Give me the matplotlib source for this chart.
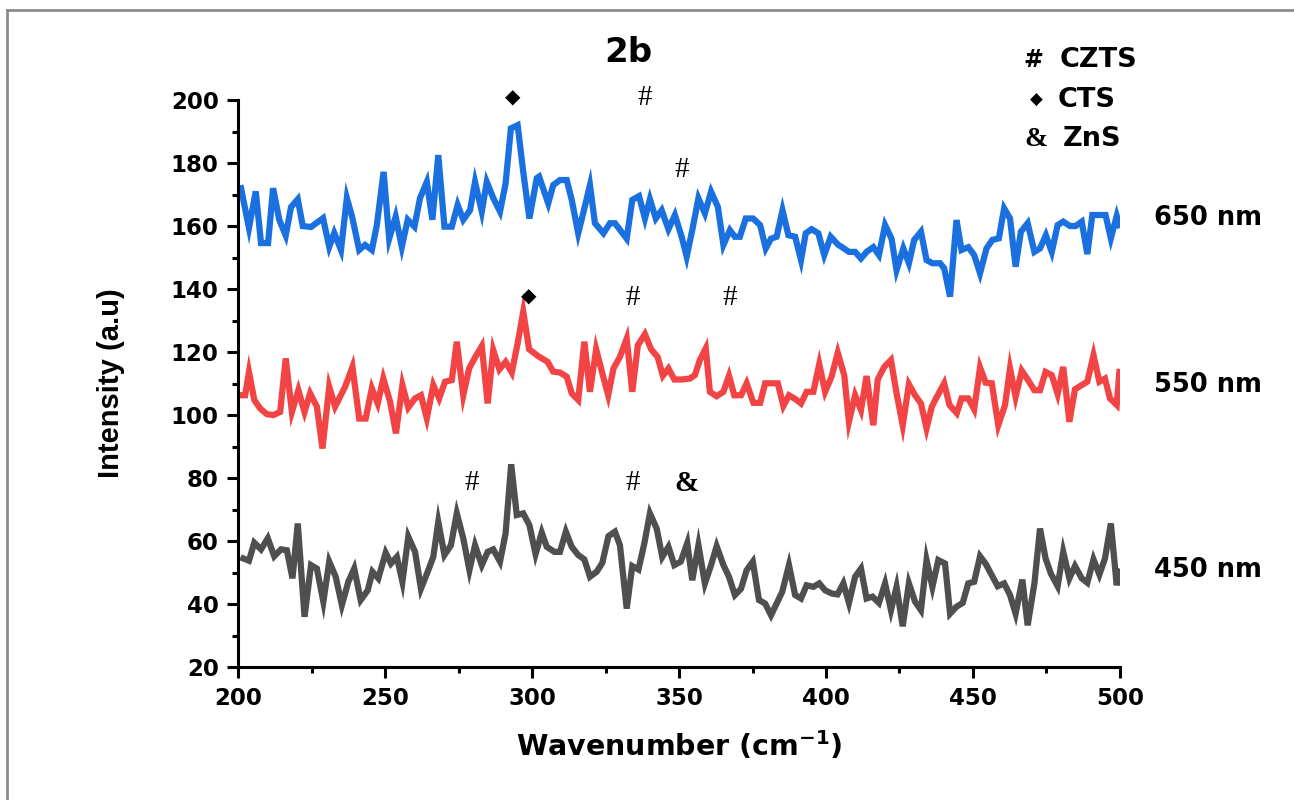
import matplotlib
matplotlib.use("Agg")
import matplotlib.pyplot as plt
from matplotlib.lines import Line2D
from matplotlib.ticker import MultipleLocator

plt.rcParams['font.family'] = ['DejaVu Sans']
plt.rcParams['mathtext.fontset'] = 'dejavusans'

# Raman spectra, excitation 650 / 550 / 450 nm (wavenumber, intensity)
x_650 = [201, 203.7, 206, 207.8, 210.2, 211.9, 214, 216.2, 218, 220.3, 222, 224.8, 228.9, 231,
         232.7, 235, 237, 238.8, 241.2, 243.2, 245.5, 247.2, 249.5, 251.4, 253.6, 255.7, 257.7,
         260, 261.9, 264.2, 266.1, 268.1, 270.2, 272.7, 274.7, 276.6, 278.9, 280.6, 282.9, 284.6,
         286.8, 289.1, 291, 292.8, 295.1, 297, 299.1, 301.6, 302.4, 305.5, 307.2, 309.5, 311.8,
         313.5, 315.7, 317.8, 319.7, 321.4, 324.3, 326.5, 328.2, 332.2, 334.1, 336.4, 338.4,
         340.1, 342.1, 344.1, 346.4, 348.6, 350.9, 352.6, 354.5, 356.6, 358.8, 360.9, 363.2,
         365.1, 367.3, 369, 370.7, 372.7, 375.2, 377.6, 379.5, 381.3, 383.2, 385.2, 387.2,
         389.5, 391.5, 393.1, 395.1, 397.4, 399.4, 401.6, 404.2, 405.3, 407.8, 409.9, 411.9,
         413.8, 416.1, 418, 420.1, 422.3, 424, 426.3, 428.2, 430, 432.3, 434.2, 436.2, 438.8,
         440.2, 442.2, 444.4, 446.1, 448.4, 450.4, 452.4, 454.6, 456.6, 458.8, 460.6, 462.6,
         464.5, 466.3, 468.6, 470.9, 472.8, 474.8, 476.8, 478.8, 480.7, 483, 484.9, 487, 488.9,
         490.6, 492.6, 495.1, 496.9, 498.9, 499.8]
y_650 = [172, 159.4, 171, 154.6, 154.6, 172, 162, 157, 166, 168.5, 160, 159.7, 162.5, 153.4,
         157.8, 152.4, 168.9, 162.9, 152.4, 154, 152.4, 160.3, 177.2, 156, 163, 153.4, 162,
         159.8, 168.9, 174, 162, 182.5, 159.8, 159.8, 166.7, 162, 165, 174, 164.6, 174,
         168.9, 164.6, 173.5, 191, 192, 177.2, 162.4, 175.2, 175.7, 167.2, 173, 174.6, 174.6,
         168.3, 157.7, 165.6, 173, 160.9, 157.7, 160.9, 160.9, 156, 168.3, 169.5, 162.4,
         168.5, 162.4, 165, 159, 163.5, 156.6, 150.3, 158.7, 168.8, 164, 170.9, 166.1,
         154, 158.7, 156.6, 156.6, 162.4, 162.4, 160.3, 152.9, 156, 156.6, 165, 157.1,
         156.6, 149.2, 157.7, 159, 157.7, 150.8, 156.6, 154, 153.4, 151.8, 151.8, 149.7,
         151.8, 153.3, 150.8, 160.3, 156, 146, 152.9, 148.2, 155.6, 158.2, 149.2, 148.2, 148.2,
         146.6, 137.6, 161.9, 152.4, 153.3, 150.8, 145, 152.9, 155.6, 156.1, 165.6, 162.4,
         147.1, 158.2, 160.9, 151.8, 152.9, 157.1, 151.8, 160.3, 161.4, 160, 160, 161.4, 151.1,
         163.5, 163.5, 163.5, 156.1, 163.2, 160.3]

x_550 = [201, 202.4, 203.7, 205.5, 207.5, 209.8, 212, 214.3, 216.2, 218.3, 220.5, 222.6, 224.5,
         226.8, 228.7, 231, 233, 236.4, 238.9, 241.2, 243.4, 245.5, 247.5, 249.4, 251.7,
         253.7, 255.9, 257.9, 260.2, 262.2, 264.2, 266.4, 268.4, 270.4, 272.7, 274.4, 276.6,
         278.6, 280.6, 282.9, 284.9, 286.8, 288.9, 291, 293.1, 295.1, 297, 299, 302.1, 305.3,
         307.2, 309.5, 311.8, 313.5, 315.7, 317.8, 319.7, 321.8, 323.9, 325.9, 327.7, 329.9,
         332.2, 334.1, 336, 338.4, 340.5, 342.7, 344.5, 346.4, 348.4, 350.9, 353.7, 355.4,
         357.1, 359.1, 360.5, 362.8, 365.1, 367, 368.8, 371.1, 373, 375.3, 377.6, 379.3,
         381.3, 383.6, 385.5, 387.4, 389.7, 391.5, 393.4, 395.7, 397.7, 399.7, 401.9, 404,
         406.2, 407.8, 409.9, 411.9, 413.8, 416.1, 417.6, 419.8, 422.1, 424, 426.1, 428.2,
         430.3, 432.3, 434.2, 436, 438, 440.2, 442, 444.5, 446.1, 448.4, 450.4, 452.4, 454.3,
         456.4, 458.6, 460.9, 462.6, 464.5, 466.6, 468.6, 470.9, 472.8, 474.7, 476.8, 478.8,
         480.7, 482.8, 484.7, 487, 488.9, 491, 493, 494.9, 496.6, 498.9, 499.8]
y_550 = [106.3, 106.3, 113.7, 104.8, 102.1, 100.3, 100, 101, 118, 101, 107.9, 101, 106.9,
         102.7, 89.4, 109, 102.7, 109, 115.3, 98.9, 98.9, 108.5, 103.7, 111.6, 104.3,
         94.2, 109.5, 102.4, 105.3, 106.3, 99, 109.5, 105.3, 110.6, 111.1, 123.3, 106.3,
         114.8, 118.3, 121.9, 103.7, 120.6, 114.5, 116.9, 113.5, 122.8, 132.8, 120.9, 118.7, 116.9,
         113.8, 113.5, 112.2, 106.9, 104.8, 123.3, 107.4, 120.9, 113.3, 106.3, 114.8, 118.5,
         124.3, 107.4, 122.2, 125.7, 120.9, 118.5, 112.5, 114.8, 111.3, 111.3, 111.6, 112.7,
         117.5, 121.2, 107.4, 106, 107.4, 112.5, 106.3, 106.3, 110.1, 103.9, 103.9, 110.1,
         110.1, 110.1, 102.9, 106.3, 105, 103.7, 107.4, 107.4, 116.2, 107.4, 112.2, 119.8,
         112.7, 97.9, 106.3, 101.6, 112.4, 96.8, 111.3, 115.3, 117.5, 106.9, 96.8, 109.8,
         106.3, 103.7, 95.8, 102.7, 106.3, 110.1, 103.2, 100.6, 105.3, 105.3, 101.8, 115.1, 110.3,
         110.1, 96.8, 103.2, 114.8, 105.8, 114.1, 111.3, 107.9, 107.9, 113.7, 112.7, 106.7,
         115.3, 97.9, 108.2, 109.5, 110.6, 119, 110.6, 111.6, 105.3, 103.2, 113.7]

x_450 = [201.8, 203.7, 205.5, 207.8, 210.1, 212.3, 214.6, 216.6, 218.5, 220.3, 222.6, 224.8,
         226.8, 229, 231, 233.2, 235.3, 237.5, 239.5, 241.7, 244.1, 245.7, 247.7, 250.2, 252,
         254, 255.9, 257.9, 260.2, 262.2, 264.5, 266.4, 268.1, 270.2, 272.4, 274.4, 276.6,
         278.7, 280.6, 282.9, 284.9, 286.8, 289.1, 291, 292.9, 294.8, 297, 299.1, 301.2, 303.3,
         305, 307.6, 309.5, 311.5, 313.5, 315.7, 317.8, 319.7, 322, 323.9, 326, 328.2, 329.9,
         332.2, 334.1, 336.2, 338.2, 340.1, 342.4, 344.3, 346.4, 348.4, 350.6, 352.8, 354.5,
         356.6, 358.8, 360.9, 362.8, 365.1, 367, 369, 371.1, 373, 375.1, 377.2, 379.3, 381.3,
         383.2, 385.1, 387.4, 389.5, 391.5, 393.4, 395.7, 397.7, 399.7, 401.9, 403.9, 405.9,
         407.8, 409.9, 411.9, 413.8, 415.8, 418, 420.1, 422.1, 424, 426.1, 428.2, 430.3, 432.3,
         434.2, 436.2, 438.2, 440.5, 442.2, 444.4, 446.5, 448.4, 450.4, 452.4, 454.4, 456.1,
         458.4, 460.6, 462.6, 464.5, 466.8, 468.6, 470.9, 472.8, 474.7, 476.5, 478.8, 480.7,
         482.8, 484.7, 487, 488.9, 491, 493, 494.9, 496.9, 498.9, 499.8]
y_450 = [54.5, 53.8, 59.5, 57.4, 60.9, 55.2, 57.4, 57.1, 48.2, 65.6, 36, 52.4,
         51.3, 40.8, 53.5, 48.7, 39.7, 47.1, 51.3, 41.3, 44.4, 50.3, 48.2, 56.3, 52.9,
         55, 47.1, 61.4, 56.6, 44.9, 50.3, 55, 66.1, 55.6, 58.7, 68.8, 60.9,
         50.8, 58.7, 52.4, 56.6, 57.4, 53.5, 62.5, 84.4, 68.3, 68.8, 65.1, 55.9, 62.7,
         58.2, 56.6, 56.6, 63, 58.2, 55.6, 54.2, 48.7, 50.3, 53.1, 61.6, 63, 58.7,
         38.6, 52.1, 51, 59.3, 68.8, 64, 55, 58.2, 52.4, 53.5, 59.4, 47.6,
         58.7, 46.6, 52.4, 58.4, 52.4, 48.7, 42.9, 44.9, 50.8, 53.5, 41.3, 40.2, 36.5,
         40.2, 43.9, 52.4, 42.9, 41.8, 46, 45.5, 46.6, 44.4, 43.4, 43.1, 46.6,
         40.4, 48.7, 51.3, 41.8, 42.4, 40.4, 46.6, 38.1, 45.5, 33, 46.6, 40.8, 38.1,
         54, 45.5, 54, 52.9, 37, 39.2, 40.4, 46.6, 47.1, 55.2, 52.7, 49.7,
         45.7, 46.6, 42.9, 37, 47.8, 33.3, 46.6, 64, 54.5, 49.7, 45.7, 56.6,
         48.2, 52.1, 48.2, 46.8, 54.2, 49.4, 54.5, 65.6, 46, 50.3]

series_labels = ['650 nm', '550 nm', '450 nm']
series_colors = ['#1b70e0', '#f24444', '#4f4f4f']

# peak markers: (symbol, wavenumber, height)
peak_marks = [('◆', 293.5, 200.6), ('#', 338.4, 200.6), ('#', 351, 177.8),
              ('◆', 299, 137.5), ('#', 334.4, 137.1), ('#', 367.3, 137.1),
              ('#', 279.6, 78.4), ('#', 334.4, 78.4), ('&', 352.4, 78.4)]

fig = plt.figure(figsize=(12.94, 8), dpi=100)
ax = fig.add_axes([0.184, 0.166, 0.6815, 0.709])

for xs, ys, c in zip([x_650, x_550, x_450], [y_650, y_550, y_450], series_colors):
    ax.plot(xs, ys, color=c, lw=4.5, solid_joinstyle='miter')

for lab, yv in zip(series_labels, [162.5, 109.5, 50.8]):
    ax.text(530, yv, lab, ha='center', va='center', fontsize=18.5, fontweight='bold',
            clip_on=False)

for sym, xv, yv in peak_marks:
    if sym == '◆':
        ax.text(xv, yv, sym, ha='center', va='center', fontsize=14.5)
    else:
        ax.text(xv, yv, sym, ha='center', va='center', fontsize=21,
                family=['Liberation Serif'], fontweight='bold' if sym == '&' else 'normal')

ax.text(332.7, 215.2, '2b', ha='center', va='center', fontsize=24.5, fontweight='bold',
        clip_on=False)

ax.set_xlim(200, 500)
ax.set_ylim(20, 200)
ax.xaxis.set_major_locator(MultipleLocator(50))
ax.xaxis.set_minor_locator(MultipleLocator(25))
ax.yaxis.set_major_locator(MultipleLocator(20))
ax.yaxis.set_minor_locator(MultipleLocator(10))
ax.tick_params(which='major', direction='out', length=8, width=2.2, labelsize=16.5, pad=6)
ax.tick_params(which='minor', direction='out', length=4.5, width=2.2)
for lbl in ax.get_xticklabels() + ax.get_yticklabels():
    lbl.set_fontweight('bold')
for side in ['top', 'right']:
    ax.spines[side].set_visible(False)
for side in ['left', 'bottom']:
    ax.spines[side].set_linewidth(2.2)

ax.set_xlabel(r'Wavenumber (cm$^{\mathbf{-1}}$)', fontsize=20.5, fontweight='bold', labelpad=14)
ax.set_ylabel('Intensity (a.u)', fontsize=21, fontweight='bold', labelpad=33,
              family=['Liberation Sans'])

# phase key in the top-right corner
fig.text(0.791, 0.925, '#', fontsize=17, fontweight='bold', va='center')
fig.text(0.819, 0.925, 'CZTS', fontsize=19.5, fontweight='bold', va='center')
fig.text(0.796, 0.875, '◆', fontsize=12, va='center')
fig.text(0.817, 0.875, 'CTS', fontsize=19.5, fontweight='bold', va='center')
fig.text(0.792, 0.826, '&', fontsize=20, fontweight='bold', va='center',
         family=['Liberation Serif'])
fig.text(0.821, 0.826, 'ZnS', fontsize=19.5, fontweight='bold', va='center')

# thin grey border along the top and left edges
fig.lines.append(Line2D([0.0055, 1.0], [0.9875, 0.9875], transform=fig.transFigure,
                        color='#8c8c8c', lw=2))
fig.lines.append(Line2D([0.0055, 0.0055], [0.0, 0.9875], transform=fig.transFigure,
                        color='#8c8c8c', lw=2))

fig.savefig('out.png', dpi=100)
